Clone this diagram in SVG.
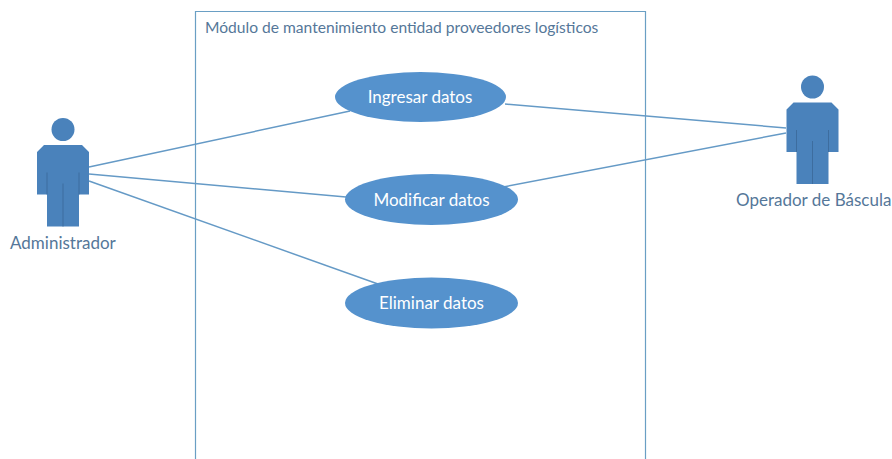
<svg xmlns="http://www.w3.org/2000/svg" width="892" height="459" viewBox="0 0 892 459">
<style>
text{font-family:"Lato","Open Sans","Liberation Sans",sans-serif;font-size:17px}
.lab{fill:#557799}
.title{font-size:15.600px}
.uc{fill:#fff;text-anchor:middle}
.fill{fill:#5592cd}
.actor{fill:#4a82bb}
.div{stroke:#3d6d9f;stroke-width:1;fill:none}
.con{stroke:#659ac6;stroke-width:1.5;fill:none}
</style>
<defs>
<g id="person">
<circle cx="0" cy="-16" r="11.5" class="actor"/>
<path class="actor" d="M-19-0.500L19-0.500L26 6.500V49H16V81H-16V49H-26V6.500Z"/>
<path class="div" d="M-16 27V49M16 27V49M0 38V81"/>
</g>
</defs>
<rect x="0" y="0" width="892" height="459" fill="#fff"/>
<g id="system">
<path d="M195.500 459V11.500H645.500V459" fill="none" stroke="#6a9fc4" stroke-width="1.200"/>
<text class="lab title" x="205" y="33">Módulo de mantenimiento entidad proveedores logísticos</text>
</g>
<g id="connectors">
<line class="con" x1="89" y1="167" x2="350" y2="111"/>
<line class="con" x1="89" y1="174" x2="346" y2="197"/>
<line class="con" x1="89" y1="181" x2="378" y2="284"/>
<line class="con" x1="505" y1="104" x2="786" y2="128"/>
<line class="con" x1="503" y1="187" x2="786" y2="133"/>
</g>
<g id="uc-ingresar">
<ellipse class="fill" cx="420.500" cy="97" rx="85.500" ry="25"/>
<text class="uc" x="420" y="103">Ingresar datos</text>
</g>
<g id="uc-modificar">
<ellipse class="fill" cx="431.500" cy="199.500" rx="86.500" ry="25.500"/>
<text class="uc" x="431.500" y="206">Modificar datos</text>
</g>
<g id="uc-eliminar">
<ellipse class="fill" cx="431.500" cy="303" rx="86.500" ry="25.500"/>
<text class="uc" x="431.500" y="309">Eliminar datos</text>
</g>
<g id="actor-administrador">
<use href="#person" x="63" y="145.500"/>
<text class="lab" x="10" y="249">Administrador</text>
</g>
<g id="actor-operador">
<use href="#person" x="812.500" y="103"/>
<text class="lab" x="736" y="206">Operador de Báscula</text>
</g>
</svg>
